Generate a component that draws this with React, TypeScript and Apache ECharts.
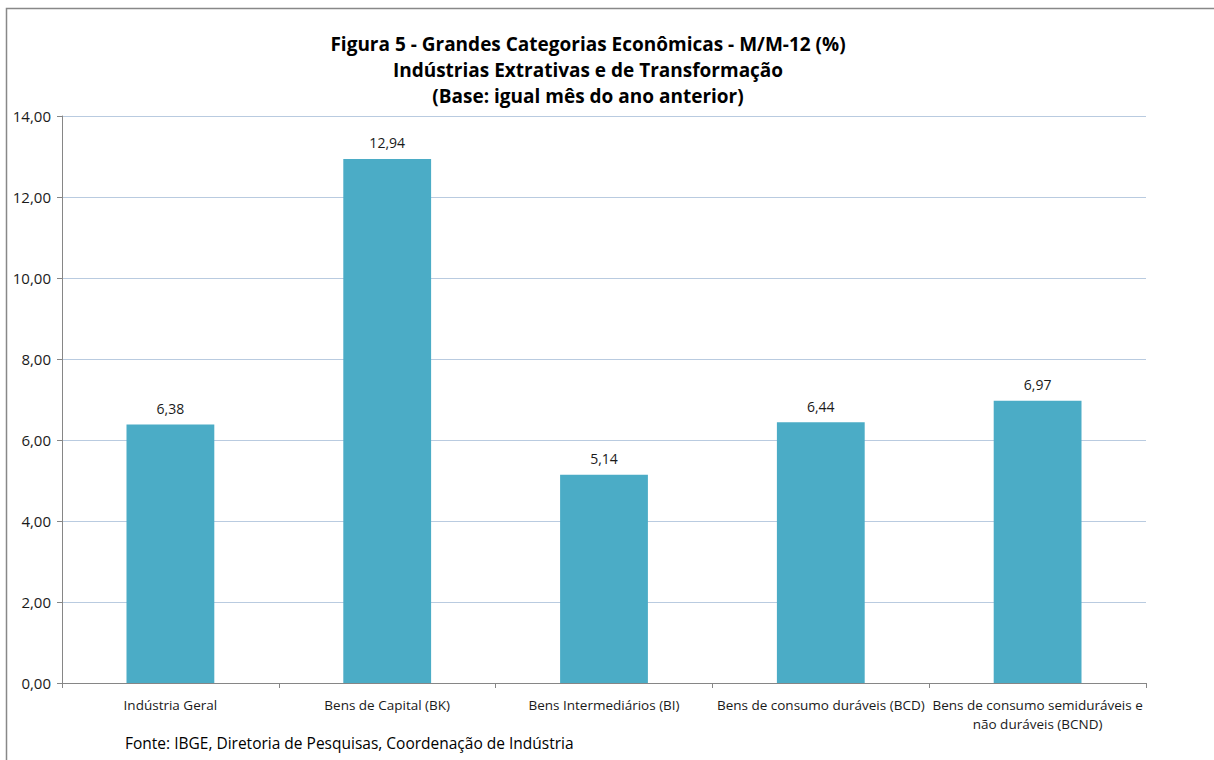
import React, { useEffect, useRef } from "react";
import * as echarts from "echarts";

const categories = [
  "Indústria Geral",
  "Bens de Capital (BK)",
  "Bens Intermediários (BI)",
  "Bens de consumo duráveis (BCD)",
  "Bens de consumo semiduráveis e\nnão duráveis (BCND)",
];
const values = [6.38, 12.94, 5.14, 6.44, 6.97];
const titleLines = [
  "Figura 5 - Grandes Categorias Econômicas - M/M-12 (%)",
  "Indústrias Extrativas e de Transformação",
  "(Base: igual mês do ano anterior)",
];
const sourceText = "Fonte: IBGE, Diretoria de Pesquisas, Coordenação de Indústria";

const FONT = "'Open Sans', 'Noto Sans', sans-serif";
const fmt = (v: number) => v.toFixed(2).replace(".", ",");

export default function App() {
  const ref = useRef<HTMLDivElement>(null);
  useEffect(() => {
    if (!ref.current) return;
    const chart = echarts.init(ref.current, undefined, { renderer: "svg" });
    chart.setOption({
      animation: false,
      backgroundColor: "#ffffff",
      title: {
        text: titleLines.join("\n"),
        left: 588,
        top: 31,
        padding: 0,
        textAlign: "center",
        textStyle: {
          fontFamily: FONT,
          fontSize: 19,
          fontWeight: "bold",
          color: "#000000",
          lineHeight: 26,
        },
      },
      grid: { left: 62, right: 68, top: 116, bottom: 77 },
      xAxis: {
        type: "category",
        data: categories,
        axisLine: { lineStyle: { color: "#868686", width: 1 } },
        axisTick: { show: true, alignWithLabel: false, length: 5, lineStyle: { color: "#868686" } },
        axisLabel: {
          interval: 0,
          fontFamily: FONT,
          fontSize: 13.5,
          color: "#1a1a1a",
          margin: 12,
          lineHeight: 19,
        },
      },
      yAxis: {
        type: "value",
        min: 0,
        max: 14,
        interval: 2,
        axisLine: { show: true, lineStyle: { color: "#868686", width: 1 } },
        axisTick: { show: true, length: 5, lineStyle: { color: "#868686" } },
        splitLine: { lineStyle: { color: "#B9CBE0", width: 1 } },
        axisLabel: {
          formatter: (v: number) => fmt(v),
          fontFamily: FONT,
          fontSize: 15,
          color: "#1a1a1a",
          margin: 11,
        },
      },
      series: [
        {
          type: "bar",
          data: values,
          barWidth: "40.5%",
          itemStyle: { color: "#4BACC6" },
          label: {
            show: true,
            position: "top",
            distance: 9,
            formatter: (p: any) => fmt(p.value),
            fontFamily: FONT,
            fontSize: 14,
            color: "#1a1a1a",
          },
        },
      ],
      graphic: [
        {
          type: "rect",
          shape: { x: 6.5, y: 8.5, width: 1220, height: 770 },
          style: { fill: "none", stroke: "#888888", lineWidth: 1.5 },
          silent: true,
        },
        {
          type: "text",
          x: 125,
          y: 735,
          style: {
            text: sourceText,
            fontFamily: FONT,
            fontSize: 15.5,
            fill: "#000000",
            textVerticalAlign: "top",
          },
        },
      ],
    });
    return () => chart.dispose();
  }, []);
  return (
    <div
      ref={ref}
      style={{ position: "fixed", left: 0, top: 0, width: 1214, height: 760 }}
    />
  );
}
